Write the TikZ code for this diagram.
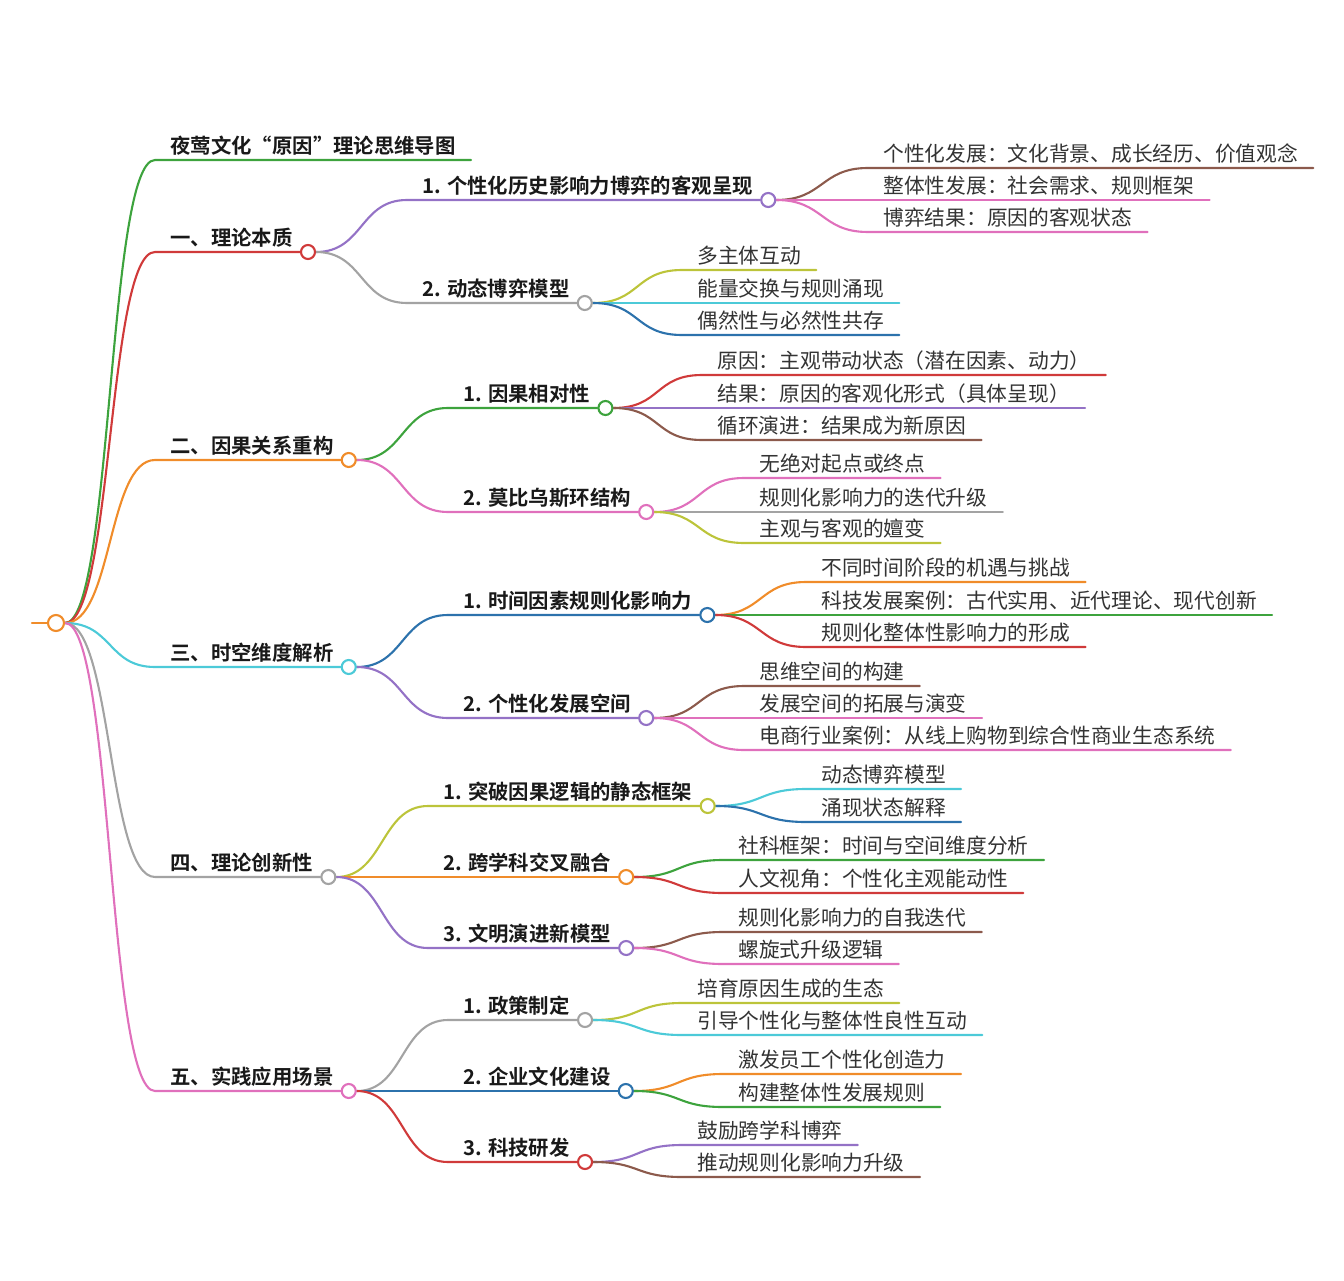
\documentclass[tikz,border=0pt]{standalone}
\usepackage{fontspec}
\setmainfont{Noto Sans CJK SC}[BoldFont={Noto Sans CJK SC Bold}]
\usetikzlibrary{backgrounds}
\definecolor{mgreen}{HTML}{3DA33D}
\definecolor{mred}{HTML}{D03A3A}
\definecolor{morange}{HTML}{F08C2A}
\definecolor{mcyan}{HTML}{4CCAD8}
\definecolor{mgrey}{HTML}{A3A3A3}
\definecolor{mpink}{HTML}{E070BC}
\definecolor{mpurple}{HTML}{9472C6}
\definecolor{mbrown}{HTML}{8C5A4C}
\definecolor{molive}{HTML}{BCC43A}
\definecolor{mblue}{HTML}{2C72AC}
\begin{document}
\begin{tikzpicture}[x=0.02cm, y=-0.02cm,
  topic/.style={anchor=south west, inner xsep=0.3cm, inner ysep=0.12cm, text depth=0pt,
    font=\fontsize{11.6}{14}\selectfont\bfseries, text=black!90},
  leaf/.style={anchor=south west, inner xsep=0.3cm, inner ysep=0.12cm, text depth=0pt,
    font=\fontsize{11.8}{14}\selectfont, text=black!80},
  hub/.style={circle, draw=#1, fill=white, line width=1.2pt, minimum size=0.28cm, inner sep=0pt},
  branch/.style={#1, line width=1.2pt, line cap=round},
  swoop/.style={out=0, in=180, distance=0.95cm}]
\useasboundingbox (0,0) rectangle (1344,1280);

% root
\node[hub=morange, minimum size=0.32cm] (root) at (56,623) {};
\coordinate (tail) at (32,623);

% main topics
\node[topic] (title) at (155,160) {夜莺文化“原因”理论思维导图};
\node[topic] (t1) at (155,252) {一、理论本质};
\node[topic] (t2) at (155,460) {二、因果关系重构};
\node[topic] (t3) at (155,667) {三、时空维度解析};
\node[topic] (t4) at (155,877) {四、理论创新性};
\node[topic] (t5) at (155,1091) {五、实践应用场景};
\node[hub=mred] (c1) at (t1.south east) {};
\node[hub=morange] (c2) at (t2.south east) {};
\node[hub=mcyan] (c3) at (t3.south east) {};
\node[hub=mgrey] (c4) at (t4.south east) {};
\node[hub=mpink] (c5) at (t5.south east) {};

% sub topics
\node[topic] (t11) at (407,200) {1. 个性化历史影响力博弈的客观呈现};
\node[topic] (t12) at (407,303) {2. 动态博弈模型};
\node[topic] (t21) at (448,408) {1. 因果相对性};
\node[topic] (t22) at (448,512) {2. 莫比乌斯环结构};
\node[topic] (t31) at (448,615) {1. 时间因素规则化影响力};
\node[topic] (t32) at (448,718) {2. 个性化发展空间};
\node[topic] (t41) at (428,806) {1. 突破因果逻辑的静态框架};
\node[topic] (t42) at (428,877) {2. 跨学科交叉融合};
\node[topic] (t43) at (428,948) {3. 文明演进新模型};
\node[topic] (t51) at (448,1020) {1. 政策制定};
\node[topic] (t52) at (448,1091) {2. 企业文化建设};
\node[topic] (t53) at (448,1162) {3. 科技研发};
\node[hub=mpurple] (c11) at (t11.south east) {};
\node[hub=mgrey] (c12) at (t12.south east) {};
\node[hub=mgreen] (c21) at (t21.south east) {};
\node[hub=mpink] (c22) at (t22.south east) {};
\node[hub=mblue] (c31) at (t31.south east) {};
\node[hub=mpurple] (c32) at (t32.south east) {};
\node[hub=molive] (c41) at (t41.south east) {};
\node[hub=morange] (c42) at (t42.south east) {};
\node[hub=mpurple] (c43) at (t43.south east) {};
\node[hub=mgrey] (c51) at (t51.south east) {};
\node[hub=mblue] (c52) at (t52.south east) {};
\node[hub=mred] (c53) at (t53.south east) {};

% leaves
\node[leaf] (l111) at (868,168) {个性化发展：文化背景、成长经历、价值观念};
\node[leaf] (l112) at (868,200) {整体性发展：社会需求、规则框架};
\node[leaf] (l113) at (868,232) {博弈结果：原因的客观状态};
\node[leaf] (l121) at (682,270) {多主体互动};
\node[leaf] (l122) at (682,303) {能量交换与规则涌现};
\node[leaf] (l123) at (682,335) {偶然性与必然性共存};
\node[leaf] (l211) at (702,375) {原因：主观带动状态（潜在因素、动力）};
\node[leaf] (l212) at (702,408) {结果：原因的客观化形式（具体呈现）};
\node[leaf] (l213) at (702,440) {循环演进：结果成为新原因};
\node[leaf] (l221) at (744,478) {无绝对起点或终点};
\node[leaf] (l222) at (744,512) {规则化影响力的迭代升级};
\node[leaf] (l223) at (744,543) {主观与客观的嬗变};
\node[leaf] (l311) at (806,582) {不同时间阶段的机遇与挑战};
\node[leaf] (l312) at (806,615) {科技发展案例：古代实用、近代理论、现代创新};
\node[leaf] (l313) at (806,647) {规则化整体性影响力的形成};
\node[leaf] (l321) at (744,686) {思维空间的构建};
\node[leaf] (l322) at (744,718) {发展空间的拓展与演变};
\node[leaf] (l323) at (744,750) {电商行业案例：从线上购物到综合性商业生态系统};
\node[leaf] (l411) at (806,789) {动态博弈模型};
\node[leaf] (l412) at (806,822) {涌现状态解释};
\node[leaf] (l421) at (723,860) {社科框架：时间与空间维度分析};
\node[leaf] (l422) at (723,893) {人文视角：个性化主观能动性};
\node[leaf] (l431) at (723,932) {规则化影响力的自我迭代};
\node[leaf] (l432) at (723,964) {螺旋式升级逻辑};
\node[leaf] (l511) at (682,1003) {培育原因生成的生态};
\node[leaf] (l512) at (682,1035) {引导个性化与整体性良性互动};
\node[leaf] (l521) at (723,1074) {激发员工个性化创造力};
\node[leaf] (l522) at (723,1107) {构建整体性发展规则};
\node[leaf] (l531) at (682,1145) {鼓励跨学科博弈};
\node[leaf] (l532) at (682,1177) {推动规则化影响力升级};

\begin{pgfonlayer}{background}
% root links
\draw[branch=morange] (tail) -- (root.west);
\draw[branch=mgreen] (root.east) to[swoop] (title.south west) -- (title.south east);
\draw[branch=mred] (root.east) to[swoop] (t1.south west) -- (c1.west);
\draw[branch=morange] (root.east) to[swoop] (t2.south west) -- (c2.west);
\draw[branch=mcyan] (root.east) to[swoop] (t3.south west) -- (c3.west);
\draw[branch=mgrey] (root.east) to[swoop] (t4.south west) -- (c4.west);
\draw[branch=mpink] (root.east) to[swoop] (t5.south west) -- (c5.west);
% topic links
\draw[branch=mpurple] (c1.east) to[swoop] (t11.south west) -- (c11.west);
\draw[branch=mgrey] (c1.east) to[swoop] (t12.south west) -- (c12.west);
\draw[branch=mgreen] (c2.east) to[swoop] (t21.south west) -- (c21.west);
\draw[branch=mpink] (c2.east) to[swoop] (t22.south west) -- (c22.west);
\draw[branch=mblue] (c3.east) to[swoop] (t31.south west) -- (c31.west);
\draw[branch=mpurple] (c3.east) to[swoop] (t32.south west) -- (c32.west);
\draw[branch=molive] (c4.east) to[swoop] (t41.south west) -- (c41.west);
\draw[branch=morange] (c4.east) to[swoop] (t42.south west) -- (c42.west);
\draw[branch=mpurple] (c4.east) to[swoop] (t43.south west) -- (c43.west);
\draw[branch=mgrey] (c5.east) to[swoop] (t51.south west) -- (c51.west);
\draw[branch=mblue] (c5.east) to[swoop] (t52.south west) -- (c52.west);
\draw[branch=mred] (c5.east) to[swoop] (t53.south west) -- (c53.west);
% leaf links
\draw[branch=mbrown] (c11.east) to[swoop] (l111.south west) -- (l111.south east);
\draw[branch=mpink] (c11.east) to[swoop] (l112.south west) -- (l112.south east);
\draw[branch=mpink] (c11.east) to[swoop] (l113.south west) -- (l113.south east);
\draw[branch=molive] (c12.east) to[swoop] (l121.south west) -- (l121.south east);
\draw[branch=mcyan] (c12.east) to[swoop] (l122.south west) -- (l122.south east);
\draw[branch=mblue] (c12.east) to[swoop] (l123.south west) -- (l123.south east);
\draw[branch=mred] (c21.east) to[swoop] (l211.south west) -- (l211.south east);
\draw[branch=mpurple] (c21.east) to[swoop] (l212.south west) -- (l212.south east);
\draw[branch=mbrown] (c21.east) to[swoop] (l213.south west) -- (l213.south east);
\draw[branch=mpink] (c22.east) to[swoop] (l221.south west) -- (l221.south east);
\draw[branch=mgrey] (c22.east) to[swoop] (l222.south west) -- (l222.south east);
\draw[branch=molive] (c22.east) to[swoop] (l223.south west) -- (l223.south east);
\draw[branch=morange] (c31.east) to[swoop] (l311.south west) -- (l311.south east);
\draw[branch=mgreen] (c31.east) to[swoop] (l312.south west) -- (l312.south east);
\draw[branch=mred] (c31.east) to[swoop] (l313.south west) -- (l313.south east);
\draw[branch=mbrown] (c32.east) to[swoop] (l321.south west) -- (l321.south east);
\draw[branch=mpink] (c32.east) to[swoop] (l322.south west) -- (l322.south east);
\draw[branch=mpink] (c32.east) to[swoop] (l323.south west) -- (l323.south east);
\draw[branch=mcyan] (c41.east) to[swoop] (l411.south west) -- (l411.south east);
\draw[branch=mblue] (c41.east) to[swoop] (l412.south west) -- (l412.south east);
\draw[branch=mgreen] (c42.east) to[swoop] (l421.south west) -- (l421.south east);
\draw[branch=mred] (c42.east) to[swoop] (l422.south west) -- (l422.south east);
\draw[branch=mbrown] (c43.east) to[swoop] (l431.south west) -- (l431.south east);
\draw[branch=mpink] (c43.east) to[swoop] (l432.south west) -- (l432.south east);
\draw[branch=molive] (c51.east) to[swoop] (l511.south west) -- (l511.south east);
\draw[branch=mcyan] (c51.east) to[swoop] (l512.south west) -- (l512.south east);
\draw[branch=morange] (c52.east) to[swoop] (l521.south west) -- (l521.south east);
\draw[branch=mgreen] (c52.east) to[swoop] (l522.south west) -- (l522.south east);
\draw[branch=mpurple] (c53.east) to[swoop] (l531.south west) -- (l531.south east);
\draw[branch=mbrown] (c53.east) to[swoop] (l532.south west) -- (l532.south east);
\end{pgfonlayer}
\end{tikzpicture}
\end{document}
